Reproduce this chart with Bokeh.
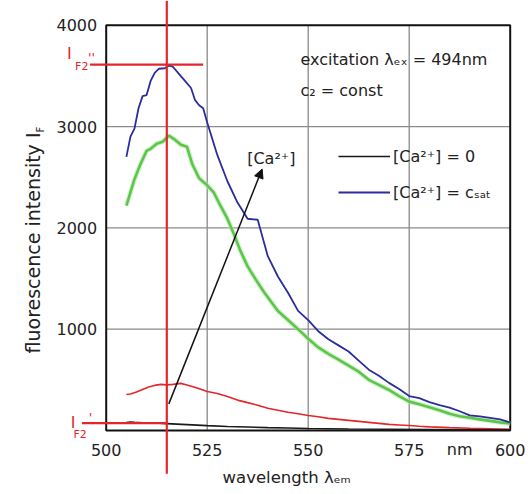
import math
from bokeh.plotting import figure
from bokeh.models import (Label, Arrow, NormalHead, Legend, LegendItem, Range1d)
from bokeh.core.properties import value
from bokeh.embed import file_html
from bokeh.resources import INLINE

# ---------------- data ----------------
wl_sat = [505, 506, 507, 508, 509, 510, 511, 512, 513, 514.5, 515.5, 516.5,
          518, 519.5, 521, 522, 523, 524, 525, 527.5, 530, 532.5, 535, 537.5,
          540, 542.5, 545, 547.5, 550, 552.5, 555, 557.5, 560, 562.5, 565,
          567.5, 570, 572.5, 575, 577.5, 580, 582.5, 585, 587.5, 590, 592.5,
          595, 597.5, 600]
if_sat = [2700, 2900, 2980, 3180, 3300, 3310, 3450, 3530, 3570, 3575, 3600,
          3590, 3520, 3450, 3380, 3260, 3210, 3180, 3040, 2720, 2460, 2250,
          2090, 2080, 1720, 1520, 1360, 1180, 1090, 980, 900, 840, 780, 690,
          600, 540, 470, 410, 340, 320, 280, 250, 225, 190, 150, 140, 125,
          110, 80]

wl_mid = [505, 506, 507, 508.5, 510, 511, 512.5, 514, 515.5, 517, 518.5, 520,
          521.3, 523, 525, 526.6, 528, 530, 531.6, 533.2, 535, 537.5, 539,
          542.5, 545, 547.5, 550, 552.5, 555, 557.5, 560, 562.5, 565, 567.5,
          570, 572.5, 575, 577.5, 580, 582.5, 585, 587.5, 590, 592.5, 595,
          597.5, 600]
if_mid = [2220, 2350, 2480, 2630, 2760, 2780, 2830, 2850, 2910, 2870, 2820,
          2800, 2630, 2490, 2420, 2350, 2240, 2090, 1940, 1775, 1620, 1460,
          1370, 1180, 1090, 1000, 905, 820, 757, 700, 640, 580, 500, 450,
          400, 340, 285, 260, 230, 200, 165, 140, 125, 110, 95, 80, 70]

wl_low = [505, 506, 507.5, 509, 510.5, 512, 513.5, 515, 516.5, 518.5, 520,
          522.5, 525, 527.5, 530, 532.5, 535, 537.5, 540, 542.5, 545, 547.5,
          550, 552.5, 555, 557.5, 560, 562.5, 565, 567.5, 570, 572.5, 575,
          577.5, 580, 585, 590, 595, 600]
if_low = [355, 360, 380, 405, 430, 445, 455, 450, 455, 465, 450, 420, 385,
          365, 335, 300, 275, 250, 220, 200, 180, 165, 148, 135, 120, 110,
          100, 90, 80, 70, 60, 55, 49, 42, 36, 28, 22, 17, 12]

wl_zero = [505, 506, 507, 509, 511, 513, 515, 520, 525, 530, 535, 540, 545,
           550, 560, 570, 580, 590, 600]
if_zero = [78, 84, 80, 76, 74, 72, 68, 58, 48, 40, 34, 28, 24, 20, 15, 12,
           10, 8, 6]

peak_wl = 515          # wavelength of the maximum
if2_sat = 3610         # I_F2''
if2_zero = 72          # I_F2'
trend_start = (515.5, 263)
trend_end = (538.6, 2580)

x_ticks = [500, 525, 550, 575, 587.5, 600]
x_tick_labels = ["500", "525", "550", "575", "nm", "600"]
x_grid = [525, 550, 575]
y_ticks = [1000, 2000, 3000, 4000]
y_tick_labels = ["1000", "2000", "3000", "4000"]
y_grid = [1000, 2000, 3000]
x_lim = [500, 600]
y_lim = [0, 4000]

FONT = "DejaVu Sans"
TXT = "#222222"
RED = "#e3262b"

# ---------------- layout: one frame spanning the whole canvas ----------------
W, H = 526, 492
box_left, box_right, box_top, box_bottom = 105.7, 509.7, 24.7, 430.0
sx = (box_right - box_left) / (x_lim[1] - x_lim[0])
sy = (box_bottom - box_top) / (y_lim[1] - y_lim[0])
xr = Range1d(x_lim[0] - box_left / sx, x_lim[0] + (W - box_left) / sx)
yr = Range1d(y_lim[0] - (H - box_bottom) / sy, y_lim[0] + box_bottom / sy)

p = figure(width=W, height=H, x_range=xr, y_range=yr,
           x_axis_type=None, y_axis_type=None, title=None,
           output_backend="svg", toolbar_location=None,
           min_border=0, min_border_left=0, min_border_right=0,
           min_border_top=0, min_border_bottom=0)
p.outline_line_color = None
p.background_fill_color = "white"
p.border_fill_color = "white"
p.xgrid.visible = False
p.ygrid.visible = False

# grid lines and plot box
p.segment(x0=x_grid, y0=y_lim[0], x1=x_grid, y1=y_lim[1],
          line_color="#8a8a8a", line_width=1.3)
p.segment(x0=x_lim[0], y0=y_grid, x1=x_lim[1], y1=y_grid,
          line_color="#8a8a8a", line_width=1.3)
p.quad(left=x_lim[0], right=x_lim[1], bottom=y_lim[0], top=y_lim[1],
       fill_color=None, line_color="#111111", line_width=2)

# tick labels
p.text(x=x_ticks, y=y_lim[0], text=x_tick_labels, y_offset=19,
       text_align="center", text_baseline="middle",
       text_font=value(FONT), text_font_size=value("16px"), text_color=TXT)
p.text(x=x_lim[0], y=y_ticks, text=y_tick_labels, x_offset=-9,
       text_align="right", text_baseline="middle",
       text_font=value(FONT), text_font_size=value("16px"), text_color=TXT)

# ---------------- curves ----------------
p.line(wl_low, if_low, line_color=RED, line_width=1.6)
r_zero = p.line(wl_zero, if_zero, line_color="#1a1a1a", line_width=1.6)
p.line(wl_mid, if_mid, line_color="#b9e8ad", line_width=5, line_alpha=0.6)
p.line(wl_mid, if_mid, line_color="#5cc54c", line_width=2.6)
r_sat = p.line(wl_sat, if_sat, line_color="#2b2d9e", line_width=1.8)

# ---------------- red marker lines ----------------
p.segment(x0=[peak_wl, 496, 494], y0=[-427, if2_sat, if2_zero],
          x1=[peak_wl, 524, peak_wl], y1=[4240, if2_sat, if2_zero],
          line_color=RED, line_width=2.2)

# trend arrow
p.add_layout(Arrow(end=NormalHead(size=9, fill_color="#111111",
                                  line_color="#111111"),
                   x_start=trend_start[0], y_start=trend_start[1],
                   x_end=trend_end[0], y_end=trend_end[1],
                   line_color="#111111", line_width=1.5))

# ---------------- legend ----------------
legend = Legend(items=[LegendItem(label="[Ca²⁺] = 0", renderers=[r_zero]),
                       LegendItem(label="[Ca²⁺] = cₛₐₜ", renderers=[r_sat])],
                location=(338, H - 202), glyph_width=52, glyph_height=20,
                label_height=20, spacing=16, padding=0, margin=0,
                label_standoff=3, border_line_color=None,
                background_fill_alpha=0, label_text_font=FONT,
                label_text_font_size="16px", label_text_color=TXT)
p.add_layout(legend)

# ---------------- texts ----------------
def lab(x, y, text, size, color=TXT, angle=0.0):
    p.add_layout(Label(x=x, y=y, text=text, text_font=FONT,
                       text_font_size=size, text_color=color,
                       text_align="left", text_baseline="alphabetic",
                       angle=angle))

lab(548.1, 3666, "excitation λₑₓ = 494nm", "16px")
lab(548.1, 3355, "c₂ = const", "16px")
lab(534.9, 2684, "[Ca²⁺]", "16px")
lab(528.8, -464, "wavelength λₑₘ", "16.5px")
lab(481.8, 760, "fluorescence intensity I", "19px", angle=math.pi / 2)
lab(483.7, 2941, "F", "10px", angle=math.pi / 2)

lab(490.3, 3716, "I", "16px", RED)
lab(492.3, 3592, "F2", "11px", RED)
lab(495.5, 3681, "''", "13px", RED)
lab(491.2, 82, "I", "16px", RED)
lab(491.9, -35, "F2", "11px", RED)
lab(495.7, 128, "'", "13px", RED)

open("out.html", "w").write(file_html(p, INLINE))
